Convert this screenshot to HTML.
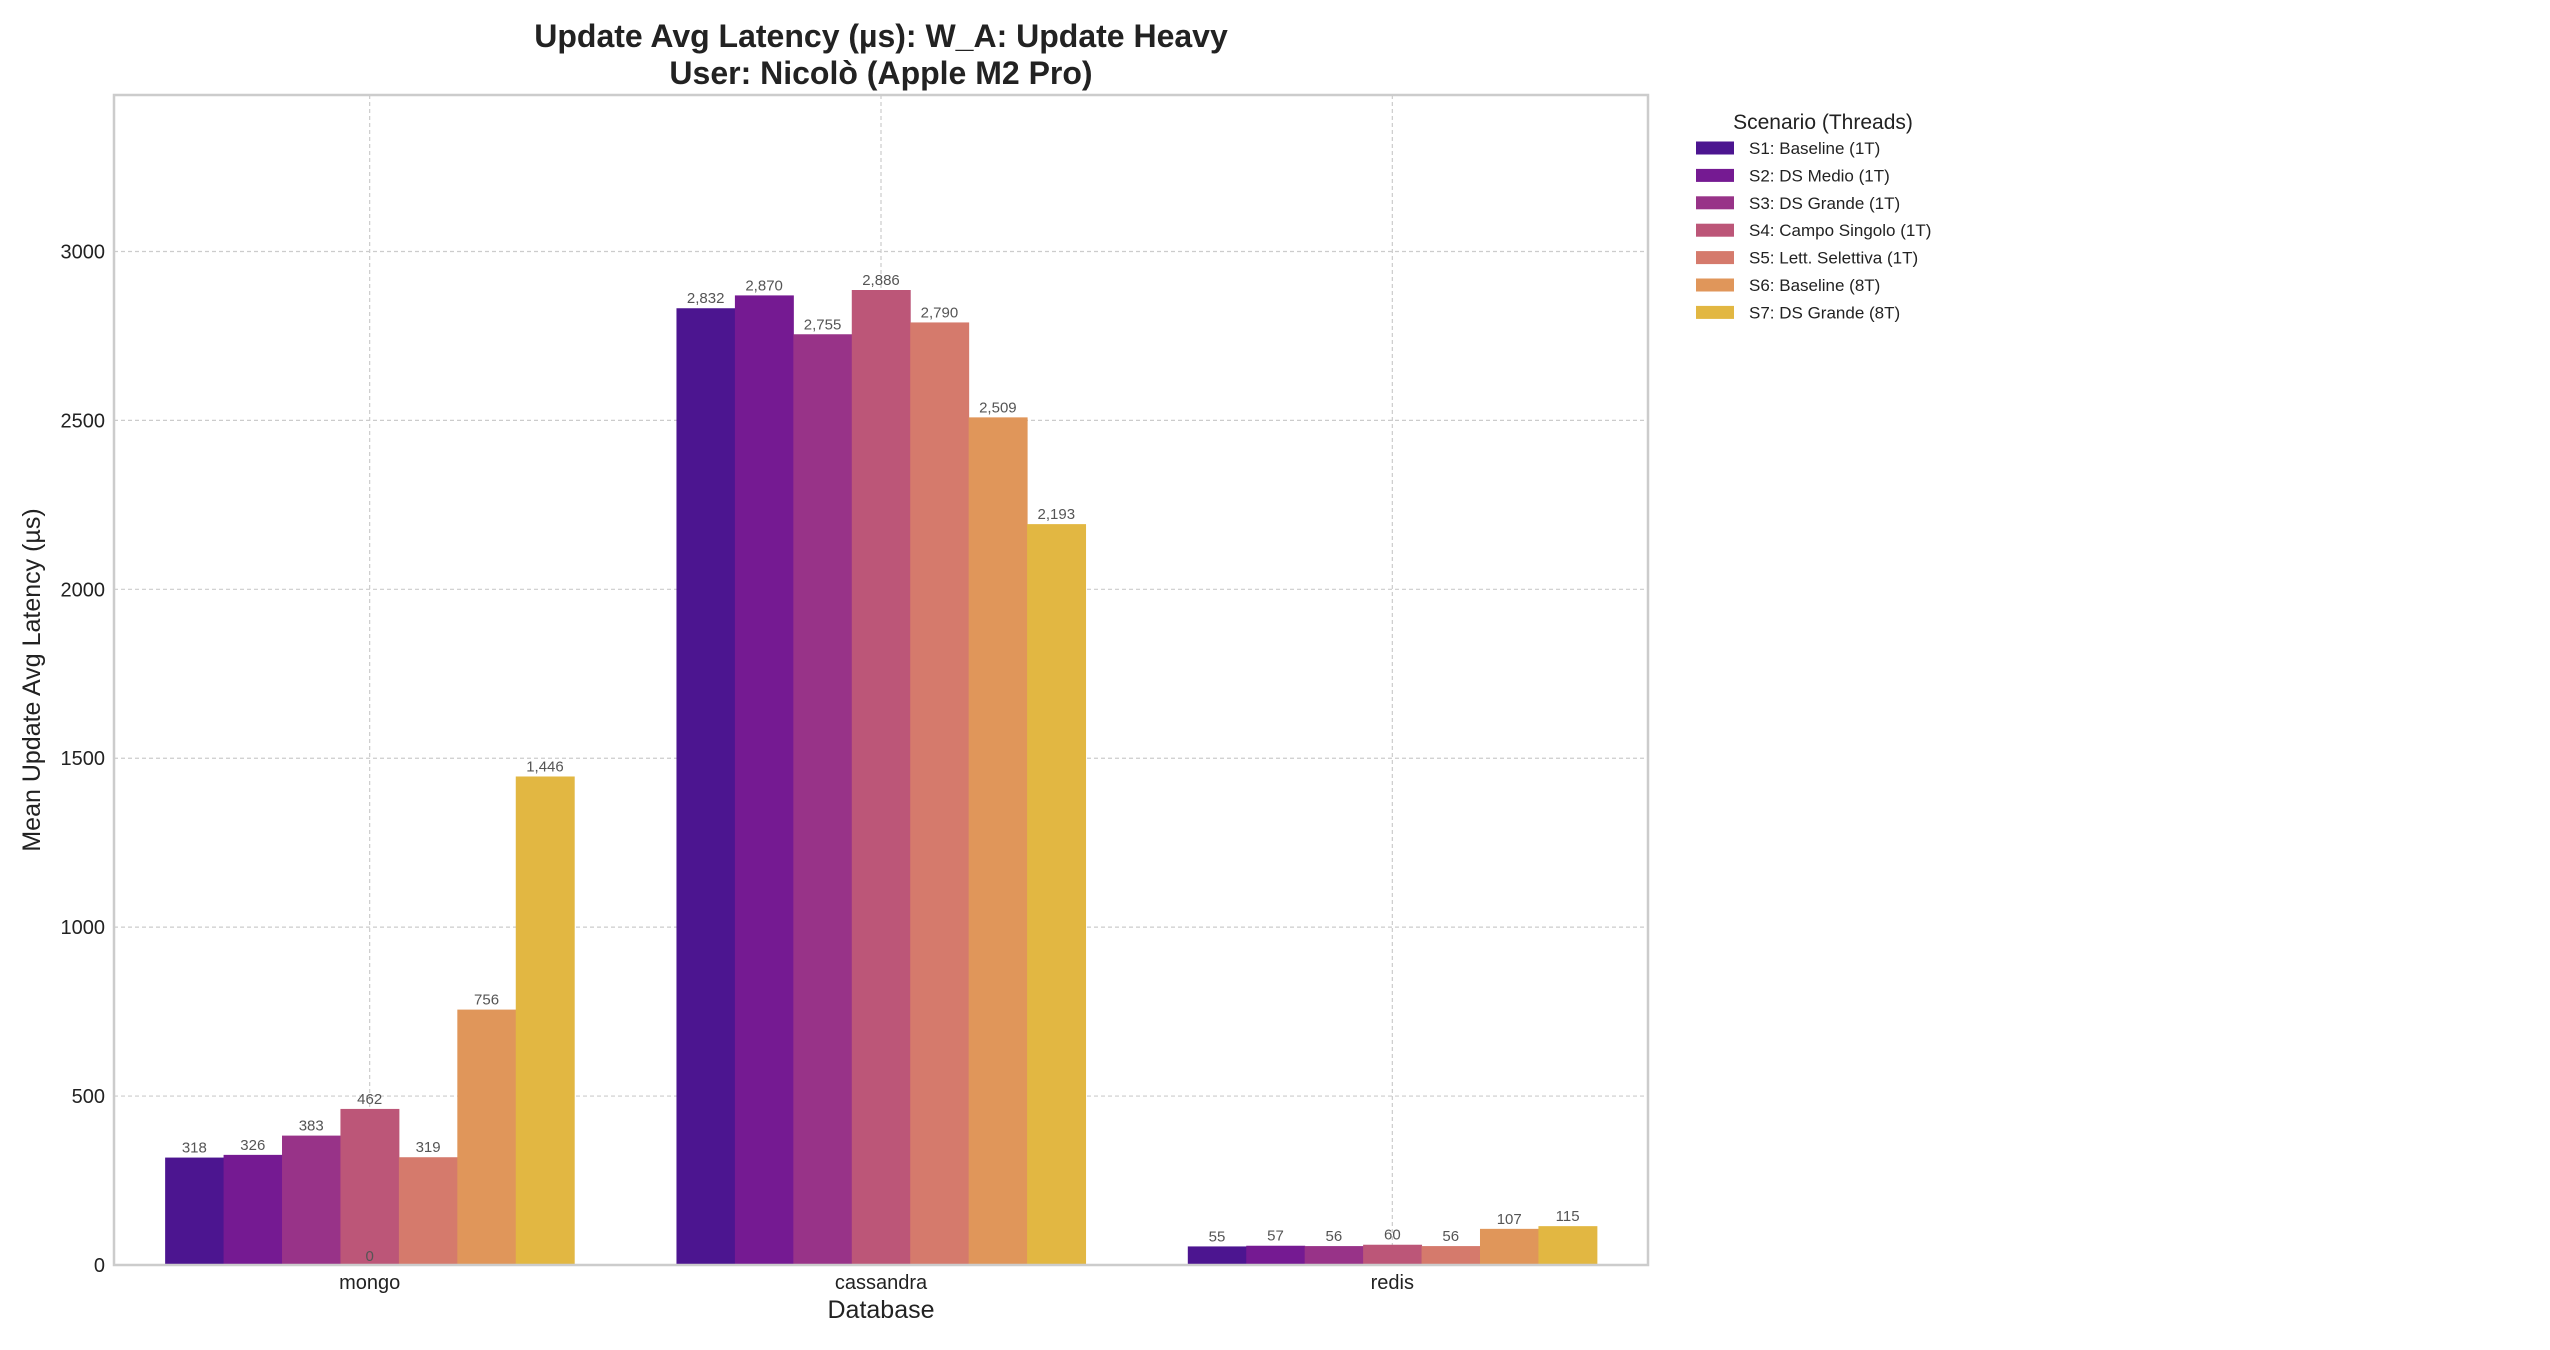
<!DOCTYPE html>
<html><head><meta charset="utf-8"><style>
body{margin:0;background:#fff;}
svg{display:block;font-family:"Liberation Sans",sans-serif;}
</style></head><body>
<svg id="chart" width="2550" height="1350" viewBox="0 0 2550 1350">
<text x="881" y="47" text-anchor="middle" font-size="32" font-weight="bold" fill="#222">Update Avg Latency (µs): W_A: Update Heavy</text>
<text x="881" y="84" text-anchor="middle" font-size="32" font-weight="bold" fill="#222">User: Nicolò (Apple M2 Pro)</text>
<g id="grid"></g><g id="bars"></g><g id="labels"></g><g id="axes"></g>
<text x="881" y="1318" text-anchor="middle" font-size="25" fill="#222">Database</text>
<text transform="translate(40,680) rotate(-90)" text-anchor="middle" font-size="25" fill="#222">Mean Update Avg Latency (µs)</text>
<g id="legend"></g>
</svg>
<script>
const categories=["mongo","cassandra","redis"];
const scenarios=["S1: Baseline (1T)","S2: DS Medio (1T)","S3: DS Grande (1T)","S4: Campo Singolo (1T)","S5: Lett. Selettiva (1T)","S6: Baseline (8T)","S7: DS Grande (8T)"];
const colors=["#4C1590","#751A92","#983388","#BC5678","#D57A6C","#E0965A","#E2B742"];
const s1=[318,2832,55];
const s2=[326,2870,57];
const s3=[383,2755,56];
const s4=[462,2886,60];
const s5=[319,2790,56];
const s6=[756,2509,107];
const s7=[1446,2193,115];
const yTicks=[0,500,1000,1500,2000,2500,3000];
const series=[s1,s2,s3,s4,s5,s6,s7];
const NS="http://www.w3.org/2000/svg";
const L=114,R=1648,T=95,B=1265;
const allVals=series.flat();
const yMax=Math.max(...allVals)*1.2;
const xs=i=>L+(i+0.5)*(R-L)/categories.length;
const ys=v=>B-v/yMax*(B-T);
const unit=(R-L)/categories.length, bw=unit*0.8/series.length;
function mk(tag,attrs,parent,text){const e=document.createElementNS(NS,tag);for(const k in attrs)e.setAttribute(k,attrs[k]);if(text!==undefined)e.textContent=text;document.getElementById(parent).appendChild(e);return e;}
yTicks.forEach(t=>{
 const g=mk('line',{x1:L,x2:R,y1:ys(t),y2:ys(t),stroke:'#ccc','stroke-width':1.2,'stroke-dasharray':'4,3'},'grid');
 
 
 const tx=mk('text',{x:105,y:ys(t)+7,'text-anchor':'end','font-size':20,fill:'#222'},'axes',String(t));
 
 
});
categories.forEach((c,i)=>{
 const g=mk('line',{x1:xs(i),x2:xs(i),y1:T,y2:B,stroke:'#ccc','stroke-width':1.2,'stroke-dasharray':'4,3'},'grid');
 
 
 const tx=mk('text',{x:xs(i),y:1289,'text-anchor':'middle','font-size':20,fill:'#222'},'axes',c);
 
 
});
series.forEach((s,j)=>{
 s.forEach((v,i)=>{
  const x=xs(i)-unit*0.4+j*bw;
  const r=mk('rect',{x:x,y:ys(v),width:bw+0.5,height:B-ys(v),fill:colors[j]},'bars');
  
  
  const t=mk('text',{x:x+bw/2,y:ys(v)-5,'text-anchor':'middle','font-size':15,fill:'#555'},'labels',v.toLocaleString('en-US'));
  
  
 });
});
const z=mk('text',{x:xs(0),y:B-4,'text-anchor':'middle','font-size':15,fill:'#555'},'labels','0');


const fr=mk('rect',{x:L,y:T,width:R-L,height:B-T,fill:'none',stroke:'#ccc','stroke-width':2.5},'axes');


const lt=mk('text',{x:1823,y:129,'text-anchor':'middle','font-size':21,fill:'#222'},'legend','Scenario (Threads)');


scenarios.forEach((s,j)=>{
 const cy=148+j*27.4;
 const p=mk('rect',{x:1696,y:cy-6.5,width:38,height:13,fill:colors[j]},'legend');
 
 
 const t=mk('text',{x:1749,y:cy+6,'font-size':17,fill:'#222'},'legend',s);
 
 
});
</script>
</body></html>
